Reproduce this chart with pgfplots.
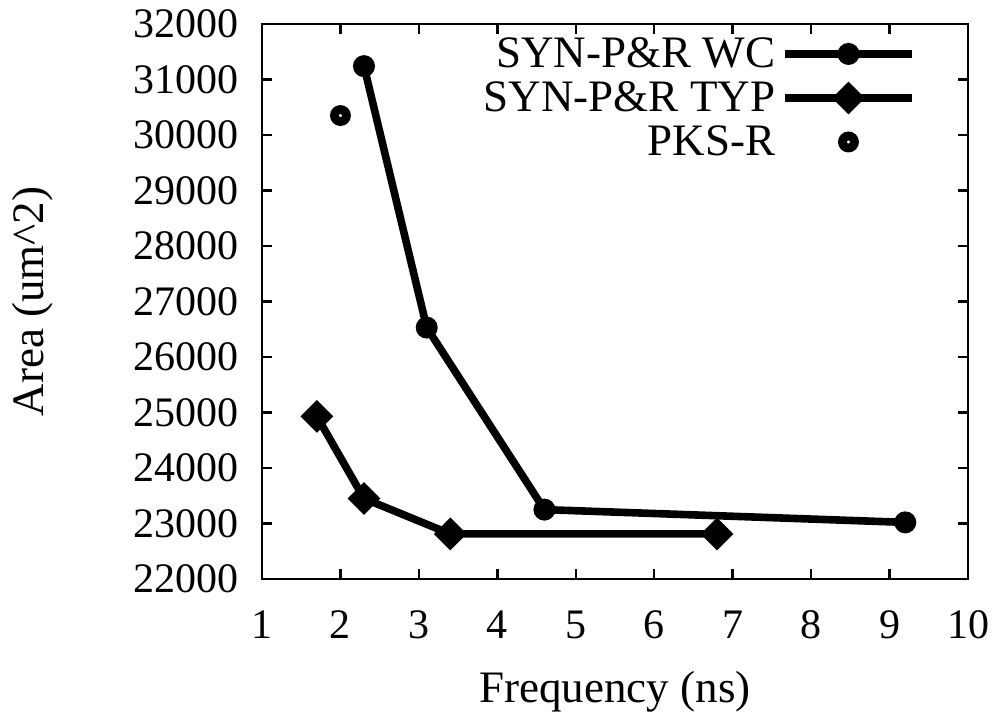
\documentclass[border=0pt]{standalone}
\usepackage{pgfplots}
\pgfplotsset{compat=1.18}
\usepackage{fontspec}
\setmainfont{Liberation Serif}
\begin{document}
\begin{tikzpicture}[font=\fontsize{21bp}{25bp}\selectfont]
\begin{axis}[
  scale only axis, width=353bp, height=277.5bp,
  xmin=1, xmax=10, ymin=22000, ymax=32000,
  xtick={1,2,...,10}, ytick={22000,23000,...,32000},
  scaled y ticks=false,
  /pgf/number format/1000 sep={},
  /pgf/number format/assume math mode=true,
  tick align=inside, tick pos=both, major tick length=5bp,
  axis line style={line width=1.2bp},
  tick style={line width=1.2bp, black},
  xticklabel style={anchor=base, yshift=-30bp},
  yticklabel style={anchor=east, xshift=-8bp},
  xlabel={Frequency (ns)},
  ylabel={Area (um\textasciicircum2)},
  xlabel style={at={(axis description cs:0.5,0)}, anchor=base, yshift=-61.5bp, font=\fontsize{22.5bp}{27bp}\selectfont},
  ylabel style={at={(axis description cs:-0.3088,0.5)}, anchor=base, rotate=0, font=\fontsize{22.5bp}{27bp}\selectfont},
  legend plot pos=right,
  legend cell align=right,
  legend style={draw=none, fill=none, inner sep=0pt, outer sep=0pt,
    font=\fontsize{22.5bp}{27bp}\selectfont,
    at={(axis description cs:0.926,0.9748)}, anchor=north east,
    row sep=2bp, column sep=3bp,
    nodes={inner sep=0pt, text height=15bp, text depth=5bp}},
  legend image code/.code={\draw[mark repeat=2,mark phase=2] plot coordinates {(0bp,2bp) (31.75bp,2bp) (63.5bp,2bp)};},
]
\addplot[black, line width=3.8bp, mark=*, mark size=5bp, mark options={line width=1bp, solid}]
  coordinates {(2.3,31240) (3.1,26530) (4.6,23250) (9.2,23020)};
\addlegendentry{SYN-P\&R WC}
\addplot[black, line width=3.8bp, mark=square*, mark size=5.3bp, mark options={line width=1bp, solid, rotate=45}]
  coordinates {(1.7,24930) (2.3,23450) (3.4,22812) (6.8,22812)};
\addlegendentry{SYN-P\&R TYP}
\addplot[black, only marks, mark=o, mark size=3bp, mark options={line width=4.4bp}]
  coordinates {(2.0,30350)};
\addlegendentry{PKS-R}
\coordinate (bbbl) at (rel axis cs:-0.3711,-0.2523);
\coordinate (bbtr) at (rel axis cs:1.0467,1.0432);
\end{axis}
\path (bbbl) rectangle (bbtr);
\end{tikzpicture}
\end{document}
